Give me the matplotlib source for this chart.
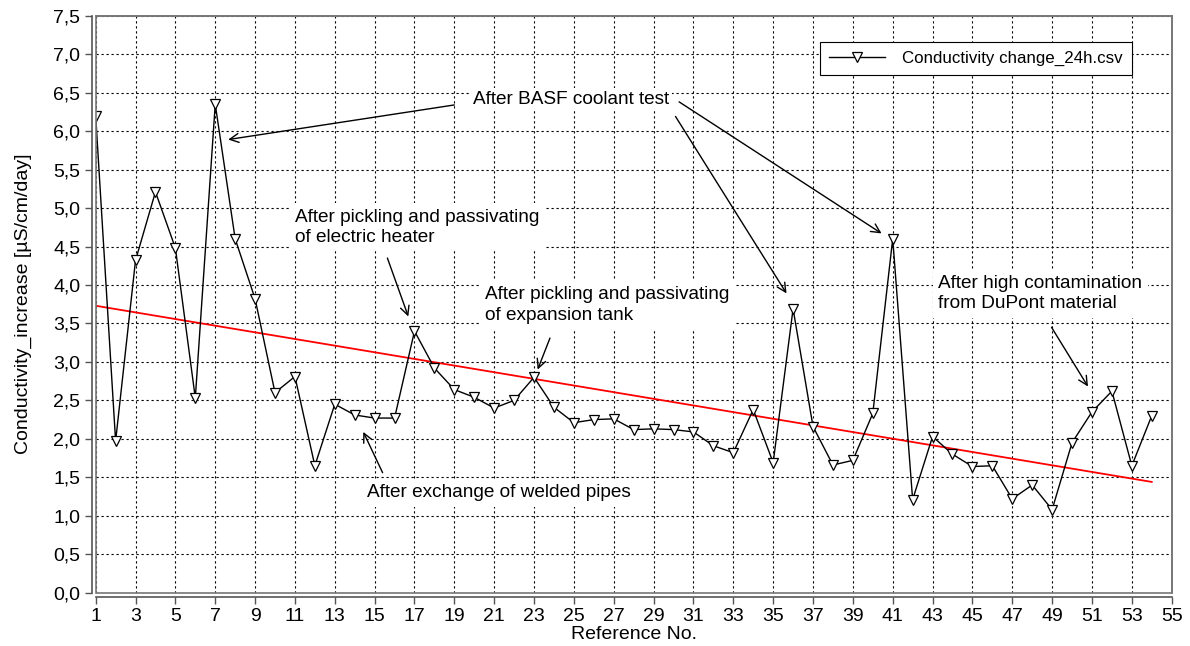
import numpy as np
import matplotlib
matplotlib.use("Agg")
import matplotlib.pyplot as plt
from matplotlib.patches import Rectangle

plt.rcParams['font.family'] = ['Liberation Sans', 'DejaVu Sans']

# data
ref_no = list(range(1, 55))
increase = [6.20, 1.97, 4.32, 5.21, 4.48, 2.53, 6.35, 4.60, 3.82, 2.60,
            2.81, 1.65, 2.45, 2.31, 2.27, 2.27, 3.40, 2.92, 2.64, 2.54,
            2.40, 2.50, 2.80, 2.41, 2.21, 2.25, 2.26, 2.12, 2.13, 2.12,
            2.09, 1.91, 1.82, 2.38, 1.69, 3.69, 2.16, 1.66, 1.72, 2.33,
            4.60, 1.21, 2.03, 1.80, 1.64, 1.65, 1.22, 1.40, 1.08, 1.95,
            2.35, 2.62, 1.65, 2.30]
trend_x = [1, 54]
trend_y = [3.73, 1.44]

x_ticks = list(range(1, 56, 2))
y_ticks = [i * 0.5 for i in range(16)]

fig = plt.figure(figsize=(11.9, 6.46), dpi=100)
ax = fig.add_axes([0.0804, 0.0825, 0.9042, 0.8932])

ax.plot(ref_no, increase, color='black', lw=1.0, marker='v', ms=7,
        mfc='white', mec='black', mew=0.9, label='Conductivity change_24h.csv', zorder=4)
ax.plot(trend_x, trend_y, color='#ff0000', lw=1.3, zorder=3)

ax.set_xlim(1, 55)
ax.set_ylim(0, 7.5)
ax.set_xticks(x_ticks)
ax.set_yticks(y_ticks)
ax.set_yticklabels([f"{v:.1f}".replace('.', ',') for v in y_ticks])
ax.tick_params(labelsize=14, length=5, width=1, color='#555555', pad=3)
ax.grid(True, color='black', linestyle=(0, (2, 2.5)), linewidth=0.8)
ax.set_axisbelow(True)

for s in ['top', 'right']:
    ax.spines[s].set_color('#777777')
    ax.spines[s].set_linewidth(1.2)
for s in ['left', 'bottom']:
    ax.spines[s].set_position(('outward', 3))
    ax.spines[s].set_color('#555555')
    ax.spines[s].set_linewidth(1.2)
ax.add_patch(Rectangle((0, 0), 1, 1, transform=ax.transAxes, fill=False,
                       edgecolor='#777777', lw=1.2, clip_on=False, zorder=5))

ax.set_xlabel('Reference No.', fontsize=14)
ax.set_ylabel('Conductivity_increase [µS/cm/day]', fontsize=14)
ax.xaxis.set_label_coords(0.5, -0.058)
ax.yaxis.set_label_coords(-0.059, 0.5)

leg = ax.legend(loc='upper right', bbox_to_anchor=(0.963, 0.955), fontsize=12.2,
                fancybox=False, framealpha=1, edgecolor='black', borderpad=0.55,
                borderaxespad=0, handlelength=3.3, handletextpad=1.0)
leg.get_frame().set_linewidth(0.8)

arrow = dict(arrowstyle='->', color='black', lw=1.0, shrinkA=0, shrinkB=0,
             mutation_scale=16)
fs = 13.7

ax.text(24.85, 6.41, 'After BASF coolant test', fontsize=fs, ha='center', va='center',
        bbox=dict(facecolor='white', edgecolor='none', pad=2), zorder=6)
ax.annotate('', xy=(7.65, 5.89), xytext=(19.0, 6.34), arrowprops=arrow, zorder=6)
ax.annotate('', xy=(35.67, 3.89), xytext=(30.1, 6.19), arrowprops=arrow, zorder=6)
ax.annotate('', xy=(40.44, 4.67), xytext=(30.28, 6.38), arrowprops=arrow, zorder=6)

ax.text(11.0, 4.75, 'After pickling and passivating\nof electric heater', fontsize=fs,
        ha='left', va='center', linespacing=1.25,
        bbox=dict(facecolor='white', edgecolor='none', pad=4), zorder=6)
ax.annotate('', xy=(16.69, 3.59), xytext=(15.64, 4.35), arrowprops=arrow, zorder=6)

ax.text(20.53, 3.74, 'After pickling and passivating\nof expansion tank', fontsize=fs,
        ha='left', va='center', linespacing=1.25,
        bbox=dict(facecolor='white', edgecolor='none', pad=4), zorder=6)
ax.annotate('', xy=(23.18, 2.90), xytext=(23.8, 3.31), arrowprops=arrow, zorder=6)

ax.text(14.6, 1.30, 'After exchange of welded pipes', fontsize=fs,
        ha='left', va='center',
        bbox=dict(facecolor='white', edgecolor='none', pad=4), zorder=6)
ax.annotate('', xy=(14.43, 2.09), xytext=(15.4, 1.56), arrowprops=arrow, zorder=6)

ax.text(43.28, 3.89, 'After high contamination\nfrom DuPont material', fontsize=fs,
        ha='left', va='center', linespacing=1.25,
        bbox=dict(facecolor='white', edgecolor='none', pad=4), zorder=6)
ax.annotate('', xy=(50.8, 2.68), xytext=(48.97, 3.45), arrowprops=arrow, zorder=6)

fig.savefig('out.png', dpi=100)
